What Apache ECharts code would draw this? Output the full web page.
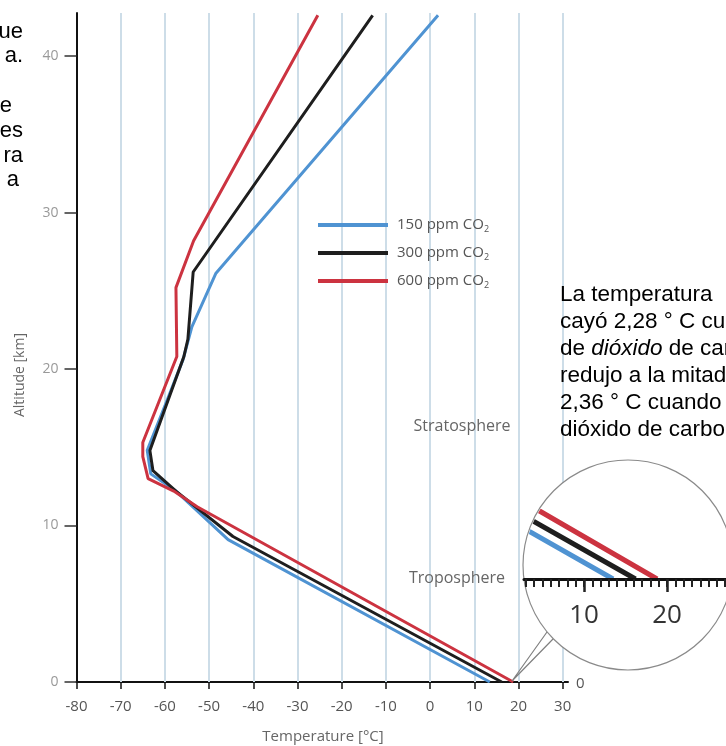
<!DOCTYPE html>
<html><head><meta charset="utf-8">
<script src="https://cdn.jsdelivr.net/npm/echarts@6/dist/echarts.min.js"></script>
<style>html,body{margin:0;padding:0;background:#fff}#c{width:726px;height:746px}</style>
</head><body><div id="c"></div>
<script>
// ---- data (temperature °C, altitude km) ----
const seriesNames = ['150 ppm CO2', '300 ppm CO2', '600 ppm CO2'];
const seriesColors = ['#4f93d2', '#1e1e1e', '#cc3340'];
const profile150 = [[13.5,0],[-45.7,9.1],[-57.5,12.2],[-63.2,13.3],[-64,14.8],[-59.5,18],[-55.9,20.6],[-53.9,22.7],[-48.5,26.1],[1.8,42.6]];
const profile300 = [[16.2,0],[-44.6,9.3],[-57.5,12.2],[-62.7,13.5],[-63.4,14.8],[-55.7,20.8],[-54.8,21.9],[-53.6,26.2],[-13,42.6]];
const profile600 = [[18.8,0],[-52.7,11.2],[-58,12.2],[-63.8,13.0],[-65,14.4],[-65,15.3],[-57.3,20.8],[-57.5,25.2],[-53.5,28.2],[-25.4,42.6]];
const xTicks = [-80,-70,-60,-50,-40,-30,-20,-10,0,10,20,30];
const gridLineTemps = [-70,-60,-50,-40,-30,-20,-10,0,10,20,30];
const yTicks = [0,10,20,30,40];
const magMinorTicks = [3,4,5,6,7,8,9,10,11,12,13,14,15,16,17,18,19,20,21,22,23,24,25,26,27];
const magMajorTicks = [10,20];
const profiles = [profile150, profile300, profile600];

const chartFont = 'Open Sans';
const circle = {cx: 628, cy: 565, r: 105};

const chart = echarts.init(document.getElementById('c'), null, {renderer: 'canvas'});

function magRender(pts, color) {
  return function (params, api) {
    if (params.dataIndex !== 0) return null;
    const p = pts.map(d => api.coord(d));
    return {
      type: 'polyline',
      shape: {points: p},
      style: {stroke: color, lineWidth: 5, fill: null},
      clipPath: {type: 'circle', shape: {cx: circle.cx, cy: circle.cy, r: circle.r - 1}}
    };
  };
}

const mainSeries = profiles.map((p, i) => ({
  name: seriesNames[i], type: 'line', xAxisIndex: 0, yAxisIndex: 0,
  data: p, symbol: 'none', smooth: false, z: 3,
  lineStyle: {color: seriesColors[i], width: 3}, itemStyle: {color: seriesColors[i]},
  animation: false
}));
const magSeries = profiles.map((p, i) => ({
  name: 'mag' + i, type: 'custom', xAxisIndex: 1, yAxisIndex: 1,
  data: p, encode: {x: 0, y: 1}, z: 20, renderItem: magRender(p, seriesColors[i]),
  animation: false, silent: true
}));

const rightLines = [
  'La temperatura',
  'cayó 2,28 ° C cuando',
  null,
  'redujo a la mitad',
  '2,36 ° C cuando',
  'dióxido de carbono'
];
const leftFrags = [['ue',23,39],['a.',23,63],['e',12,113],['es',23,138],['ra',23,163],['a',19,187]];

const graphics = [];
graphics.push({type: 'circle', shape: {cx: circle.cx, cy: circle.cy, r: circle.r}, style: {fill: '#fff', stroke: '#8a8a8a', lineWidth: 1.2}, z: 10});
graphics.push({type: 'polyline', shape: {points: [[547,632],[512,681],[553,639]]}, style: {stroke: '#808080', lineWidth: 1.2, fill: null}, z: 10});
rightLines.forEach((t, i) => {
  const baseline = 303 + i * 27;
  if (t === null) {
    graphics.push({type: 'text', x: 560, y: baseline - 8, z: 30, style: {
      text: '{n|de }{i|dióxido}{n| de carbono}', verticalAlign: 'middle', align: 'left',
      rich: {n: {fontFamily: 'Liberation Sans', fontSize: 22.5, fill: '#000'}, i: {fontFamily: 'Liberation Sans', fontStyle: 'italic', fontSize: 22.5, fill: '#000'}}
    }});
  } else {
    graphics.push({type: 'text', x: 560, y: baseline - 8, z: 30, style: {text: t, fontFamily: 'Liberation Sans', fontSize: 22.5, fill: '#000', verticalAlign: 'middle', align: 'left'}});
  }
});
leftFrags.forEach(f => {
  graphics.push({type: 'text', x: f[1], y: f[2] - 7.5, style: {text: f[0], fontFamily: 'Liberation Sans', fontSize: 22, fill: '#000', verticalAlign: 'middle', align: 'right'}});
});
graphics.push({type: 'text', x: 462, y: 426, z: 5, style: {text: 'Stratosphere', fontFamily: chartFont, fontSize: 16, fill: '#666', align: 'center', verticalAlign: 'middle'}});
graphics.push({type: 'text', x: 457, y: 578, z: 5, style: {text: 'Troposphere', fontFamily: chartFont, fontSize: 16, fill: '#666', align: 'center', verticalAlign: 'middle'}});
graphics.push({type: 'text', x: 323, y: 737, style: {text: 'Temperature [°C]', fontFamily: chartFont, fontSize: 15, fill: '#666', align: 'center', verticalAlign: 'middle'}});
graphics.push({type: 'text', x: 20, y: 375, rotation: Math.PI / 2, style: {text: 'Altitude [km]', fontFamily: chartFont, fontSize: 14, fill: '#666', align: 'center', verticalAlign: 'middle'}});
graphics.push({type: 'text', x: 576, y: 684, style: {text: '0', fontFamily: chartFont, fontSize: 15, fill: '#555', align: 'left', verticalAlign: 'middle'}});

const option = {
  backgroundColor: '#fff',
  animation: false,
  textStyle: {fontFamily: chartFont},
  grid: [
    {left: 76.5, right: 158, top: 13, bottom: 64},
    {left: 524, right: 0, top: 460, bottom: 167}
  ],
  legend: {
    data: seriesNames, orient: 'vertical', left: 318, top: 217, icon: 'rect', padding: 0,
    itemWidth: 70, itemHeight: 4, itemGap: 11.5, selectedMode: false,
    formatter: n => n.replace(/2$/, '{s|2}'),
    textStyle: {fontFamily: chartFont, fontSize: 15, color: '#555', lineHeight: 16, padding: [0,0,0,4],
      rich: {s: {fontFamily: chartFont, fontSize: 9, color: '#555', padding: [8,0,0,0]}}}
  },
  xAxis: [
    {type: 'value', gridIndex: 0, min: -80, max: 31.2,
      axisLine: {show: true, onZero: false, lineStyle: {color: '#111', width: 2}},
      axisTick: {show: true, customValues: xTicks, length: 7, lineStyle: {color: '#111', width: 1.5}},
      axisLabel: {customValues: xTicks, margin: 17, fontSize: 15, color: '#555', fontFamily: chartFont},
      splitLine: {show: false}},
    {type: 'value', gridIndex: 1, min: 2.77, max: 27.1, z: 25,
      axisLine: {show: true, onZero: false, lineStyle: {color: '#111', width: 3}},
      axisTick: {show: true, customValues: magMinorTicks, length: 8, lineStyle: {color: '#222', width: 2}},
      axisLabel: {show: false}, splitLine: {show: false}},
    {type: 'value', gridIndex: 1, min: 2.77, max: 27.1, z: 25, position: 'bottom',
      axisLine: {show: false, onZero: false},
      axisTick: {show: true, customValues: magMajorTicks, length: 13, lineStyle: {color: '#222', width: 2.5}},
      axisLabel: {customValues: magMajorTicks, margin: 24, fontSize: 26, color: '#333', fontFamily: chartFont},
      splitLine: {show: false}}
  ],
  yAxis: [
    {type: 'value', gridIndex: 0, min: 0, max: 42.75,
      axisLine: {show: true, onZero: false, lineStyle: {color: '#111', width: 2}},
      axisTick: {show: true, customValues: yTicks, length: 12, lineStyle: {color: '#333', width: 1.5}},
      axisLabel: {customValues: yTicks, margin: 18, fontSize: 14, color: '#999', fontFamily: chartFont},
      splitLine: {show: false}},
    {type: 'value', gridIndex: 1, min: 0, max: 3.88, show: false}
  ],
  graphic: {elements: graphics},
  series: [
    {name: 'grid', type: 'line', xAxisIndex: 0, yAxisIndex: 0, data: [[-80, 0]], symbol: 'none',
      lineStyle: {width: 0}, z: 1, silent: true,
      markLine: {silent: true, z: 1, symbol: ['none', 'none'], label: {show: false}, animation: false,
        lineStyle: {color: '#cddde8', width: 2, type: 'solid'},
        data: gridLineTemps.map(v => ({xAxis: v}))}}
  ].concat(mainSeries, magSeries)
};
chart.setOption(option);
</script></body></html>
